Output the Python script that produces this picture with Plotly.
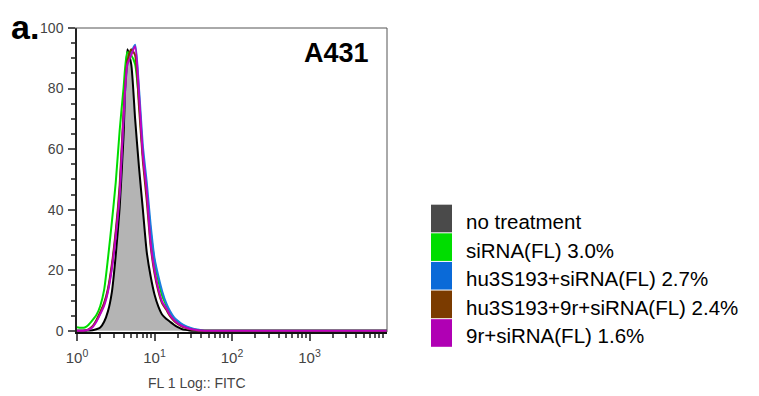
import plotly.graph_objects as go

# FL1 channel values (log-spaced, 0.05 decade steps) plus tail
log_steps = [i * 0.05 for i in range(33)] + [1.7, 2.0, 3.0, 4.0]
fl1 = [10 ** v for v in log_steps]

no_treatment = [0, 0, 0, 0.1, 0.2, 0.5, 1.1, 3, 6.5, 12.8, 25, 40.5, 64, 93, 88, 70, 54, 40, 26, 18,
                12, 8, 5.3, 4, 3, 2, 1.2, 0.6, 0.3, 0.1, 0, 0, 0, 0, 0, 0, 0]
sirna = [1.2, 1.0, 1.1, 2, 3.5, 5.2, 8.2, 13.5, 24, 36, 49, 66, 80, 92, 91, 88, 76, 58, 46, 33,
         23, 16.5, 11.5, 8.5, 6, 4.2, 3, 2.1, 1.4, 0.9, 0.5, 0.3, 0.1, 0, 0, 0, 0]
hu_sirna = [0, 0, 0.1, 0.4, 1.3, 3.2, 5.8, 8.8, 13.5, 21, 32, 46, 70, 88, 92, 94.5, 80, 61, 49, 35,
            24, 18, 13, 9.2, 6.5, 4.5, 3.3, 2.3, 1.6, 1.1, 0.7, 0.4, 0.2, 0, 0, 0, 0]
hu_9r_sirna = [0, 0, 0.1, 0.5, 1.5, 3.5, 6.2, 9.2, 14, 22, 33, 48, 72, 89, 93, 91, 74, 56, 43, 28,
               19, 13, 9, 7, 4.8, 3.3, 2.3, 1.5, 1, 0.6, 0.3, 0.1, 0, 0, 0, 0, 0]
r9_sirna = [0, 0, 0.1, 0.4, 1.2, 3, 5.5, 8.3, 13, 20.5, 31, 45, 70, 88, 91, 94, 78, 58, 46, 29,
            20, 13.8, 9.5, 7.5, 5.2, 3.6, 2.5, 1.7, 1.1, 0.7, 0.4, 0.2, 0.1, 0, 0, 0, 0]

names = ["no treatment", "siRNA(FL) 3.0%", "hu3S193+siRNA(FL) 2.7%",
         "hu3S193+9r+siRNA(FL) 2.4%", "9r+siRNA(FL) 1.6%"]
series = [no_treatment, sirna, hu_sirna, hu_9r_sirna, r9_sirna]
line_colors = ["#000000", "#00dd00", "#1a7ee0", "#7a3a00", "#c000c0"]
swatch_colors = ["#4a4a4a", "#00dd00", "#0a6ad8", "#7b3b00", "#b000b4"]

x_tickvals = [1, 10, 100, 1000]
x_ticktext = ["10<sup>0</sup>", "10<sup>1</sup>", "10<sup>2</sup>", "10<sup>3</sup>"]
x_minor = [m * d for d in (1, 10, 100, 1000) for m in range(2, 10)]
y_tickvals = [0, 20, 40, 60, 80, 100]

fig = go.Figure()
for i, (nm, ys) in enumerate(zip(names, series)):
    if i == 0:
        fig.add_trace(go.Scatter(x=fl1, y=ys, mode="lines", name=nm, fill="tozeroy",
                                 fillcolor="#b4b4b4",
                                 line=dict(color=line_colors[i], width=2, shape="spline", smoothing=0.6)))
    else:
        fig.add_trace(go.Scatter(x=fl1, y=ys, mode="lines", name=nm,
                                 line=dict(color=line_colors[i], width=2, shape="spline", smoothing=0.6)))

OFF = 8  # page body margin offset
L, R, T, B = 77, 387, 24, 332
W, H = 759 - OFF, 396 - OFF


def px(xp):
    return (xp - L) / (R - L)


def py(yp):
    return (B - yp) / (B - T)


shapes = [
    # thin frame on top and right
    dict(type="line", xref="paper", yref="paper", x0=px(70), x1=1, y0=1, y1=1,
         line=dict(color="#555555", width=1)),
    dict(type="line", xref="paper", yref="paper", x0=1, x1=1, y0=0, y1=1,
         line=dict(color="#555555", width=1)),
]
annotations = []
row_top = 203
row_h = 29
for i, nm in enumerate(names):
    y0 = row_top + i * row_h
    shapes.append(dict(type="rect", xref="paper", yref="paper",
                       x0=px(431), x1=px(452), y0=py(y0 + 28), y1=py(y0),
                       fillcolor=swatch_colors[i], line=dict(width=0)))
    annotations.append(dict(text=nm, xref="paper", yref="paper", x=px(464), y=py(y0 + 17),
                            xanchor="left", yanchor="middle", showarrow=False,
                            font=dict(family="Arial, Liberation Sans", size=20.5, color="#000000")))

annotations.append(dict(text="<b>A431</b>", xref="paper", yref="paper", x=px(336), y=py(49),
                        xanchor="center", yanchor="middle", showarrow=False,
                        font=dict(family="Arial, Liberation Sans", size=27, color="#000000")))
annotations.append(dict(text="<b>a.</b>", xref="paper", yref="paper", x=px(9), y=py(23),
                        xanchor="left", yanchor="middle", showarrow=False,
                        font=dict(family="Arial, Liberation Sans", size=34, color="#000000")))
annotations.append(dict(text="FL 1 Log:: FITC", xref="paper", yref="paper", x=px(197), y=py(384),
                        xanchor="center", yanchor="middle", showarrow=False,
                        font=dict(family="Arial, Liberation Sans", size=14, color="#444444")))

fig.update_layout(
    width=W, height=H,
    margin=dict(l=L - OFF, r=759 - R, t=T - OFF, b=396 - B, pad=0),
    paper_bgcolor="white", plot_bgcolor="white",
    showlegend=False,
    shapes=shapes, annotations=annotations,
    font=dict(family="Arial, Liberation Sans", size=14, color="#444444"),
)
fig.update_xaxes(type="log", range=[0, 4], showgrid=False, zeroline=False,
                 showline=True, linecolor="#111111", linewidth=2, mirror=False,
                 tickvals=x_tickvals, ticktext=x_ticktext, ticks="outside", ticklen=7,
                 tickcolor="#555555", tickwidth=1.5, ticklabelstandoff=4,
                 minor=dict(tickvals=x_minor, ticks="outside", ticklen=4, tickcolor="#555555", showgrid=False),
                 tickfont=dict(size=15, color="#444444"))
fig.update_yaxes(range=[-0.4, 100], showgrid=False, zeroline=False,
                 showline=True, linecolor="#222222", linewidth=1.5, mirror=False,
                 tickvals=y_tickvals, ticks="outside", ticklen=7, tickcolor="#555555", tickwidth=1.5,
                 ticklabelstandoff=2,
                 minor=dict(dtick=5, ticks="outside", ticklen=4, tickcolor="#555555", showgrid=False),
                 tickfont=dict(size=14, color="#444444"))

fig.write_html("out.html")
